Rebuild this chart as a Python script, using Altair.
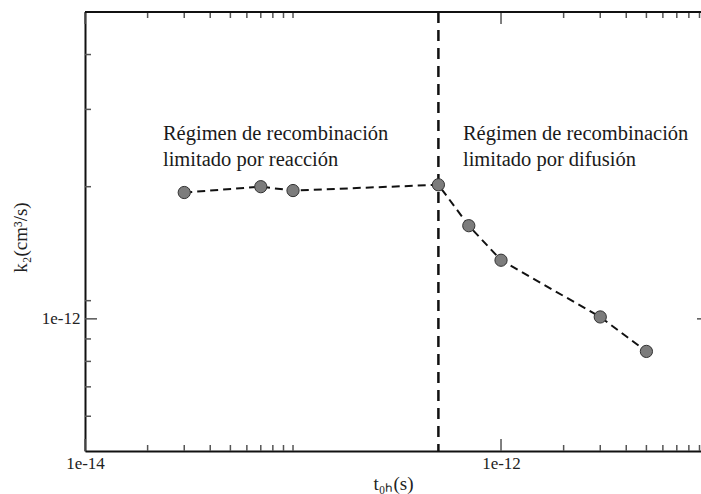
import altair as alt
import pandas as pd

# ---- data ----
t_values = [3e-14, 7e-14, 1e-13, 5e-13, 7e-13, 1e-12, 3e-12, 5e-12]
k2_values = [1.94e-12, 2.00e-12, 1.96e-12, 2.02e-12, 1.63e-12, 1.36e-12, 1.01e-12, 0.843e-12]
boundary_t = [5e-13]

ann_x = [2.37e-14, 2.37e-14, 6.56e-13, 6.56e-13]
ann_y = [2.555e-12, 2.229e-12, 2.555e-12, 2.229e-12]
ann_text = ["Régimen de recombinación", "limitado por reacción",
            "Régimen de recombinación", "limitado por difusión"]

x_label_values = [1e-14, 1e-12]
y_label_values = [1e-12]
x_major_ticks = [1e-14, 1e-12]
x_minor_ticks = [2e-14, 3e-14, 4e-14, 5e-14, 6e-14, 7e-14, 8e-14, 9e-14, 1e-13,
                 2e-12, 3e-12, 4e-12, 5e-12, 6e-12, 7e-12, 8e-12, 9e-12]
y_major_ticks = [1e-12]
y_minor_ticks = [6e-13, 7e-13, 8e-13, 9e-13, 1.1e-12, 2e-12, 3e-12, 4e-12]

W, H = 616, 439
FONT = "Liberation Serif"

xs = alt.Scale(type="log", domain=[1e-14, 9.15e-12], nice=False)
ys = alt.Scale(type="log", domain=[5e-13, 5e-12], nice=False)

df = pd.DataFrame({"t": t_values, "k2": k2_values})
df_b = pd.DataFrame({"t": boundary_t})
df_ann = pd.DataFrame({"t": ann_x, "k2": ann_y, "label": ann_text})
df_xmaj = pd.DataFrame({"t": x_major_ticks})
df_xmin = pd.DataFrame({"t": x_minor_ticks})
df_ymaj = pd.DataFrame({"k2": y_major_ticks})
df_ymin = pd.DataFrame({"k2": y_minor_ticks})

x_axis = alt.Axis(values=x_label_values, labelExpr="format(datum.value, '.0e')",
                  ticks=False, grid=False, domain=True, domainColor="#111", domainWidth=2,
                  labelFont=FONT, labelFontSize=17, labelColor="#222", labelPadding=4,
                  labelFlush=False, title="t₀ₕ(s)", titleFont=FONT, titleFontSize=19,
                  titleFontWeight="normal", titleColor="#222", titleX=308, titleY=32,
                  titleBaseline="middle")
y_axis = alt.Axis(values=y_label_values, labelExpr="format(datum.value, '.0e')",
                  ticks=False, grid=False, domain=True, domainColor="#111", domainWidth=2,
                  labelFont=FONT, labelFontSize=17, labelColor="#222", labelPadding=5,
                  labelFlush=False, title="k₂(cm³/s)", titleFont=FONT, titleFontSize=19,
                  titleFontWeight="normal", titleColor="#222", titleX=-65, titleY=225,
                  titleAngle=270, titleAlign="center", titleBaseline="middle")

X = alt.X("t:Q", scale=xs, axis=x_axis)
Y = alt.Y("k2:Q", scale=ys, axis=y_axis)

line = alt.Chart(df).mark_line(color="#111", strokeWidth=2, strokeDash=[8, 5]).encode(x=X, y=Y)
pts = alt.Chart(df).mark_point(filled=True, fill="#7c7c7c", stroke="#333", strokeWidth=1,
                               size=150, opacity=1, shape="circle").encode(x=X, y=Y)
vline = alt.Chart(df_b).mark_rule(color="#111", strokeWidth=2.5, strokeDash=[11, 7]).encode(x=X)
ann = alt.Chart(df_ann).mark_text(font=FONT, fontSize=20.5, align="left",
                                  baseline="alphabetic", color="#1a1a1a").encode(
    x=X, y=Y, text="label:N")

TC = "#555"
bx_maj = alt.Chart(df_xmaj).mark_rule(color=TC, strokeWidth=1.5).encode(
    x=X, y=alt.value(H), y2=alt.value(H - 12))
bx_min = alt.Chart(df_xmin).mark_rule(color=TC, strokeWidth=1.5).encode(
    x=X, y=alt.value(H), y2=alt.value(H - 6))
tx_maj = alt.Chart(df_xmaj).mark_rule(color=TC, strokeWidth=1.5).encode(
    x=X, y=alt.value(0), y2=alt.value(12))
tx_min = alt.Chart(df_xmin).mark_rule(color=TC, strokeWidth=1.5).encode(
    x=X, y=alt.value(0), y2=alt.value(6))
ly_maj = alt.Chart(df_ymaj).mark_rule(color=TC, strokeWidth=1.5).encode(
    y=Y, x=alt.value(0), x2=alt.value(12))
ly_min = alt.Chart(df_ymin).mark_rule(color=TC, strokeWidth=1.5).encode(
    y=Y, x=alt.value(0), x2=alt.value(6))
ry_maj = alt.Chart(df_ymaj).mark_rule(color=TC, strokeWidth=1.5).encode(
    y=Y, x=alt.value(W - 4), x2=alt.value(W))
top_frame = alt.Chart(df_b).mark_rule(color="#111", strokeWidth=2).encode(
    x=alt.value(0), x2=alt.value(W), y=alt.value(0))

chart = alt.layer(
    line, vline, pts, ann, bx_maj, bx_min, tx_maj, tx_min, ly_maj, ly_min, ry_maj, top_frame
).properties(
    width=W, height=H,
    padding={"left": 85, "top": 12, "right": 0, "bottom": 43},
    autosize=alt.AutoSizeParams(type="none"),
    background="white",
).configure_view(stroke=None)

chart.save("out.html", embed_options={"renderer": "svg", "actions": False})
